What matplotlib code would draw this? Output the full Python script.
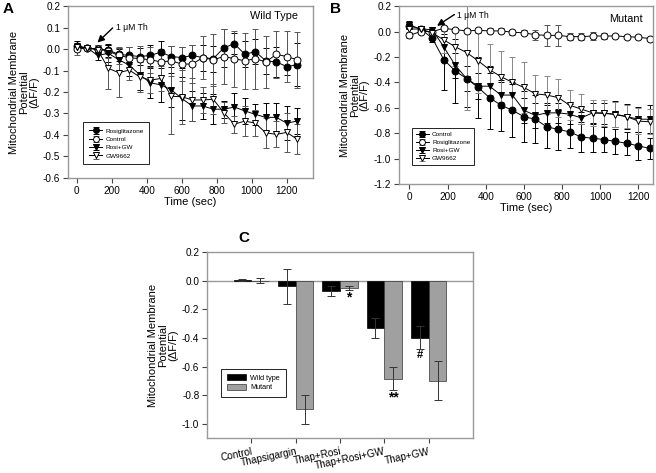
import numpy as np
import matplotlib.pyplot as plt

# time points (sec)
t = np.arange(0, 1261, 60)

# ---- panel A, wild type
a_rosi = [0.015, 0.005, 0.0, -0.005, -0.025, -0.03, -0.035, -0.03, -0.015, -0.035, -0.04,
          -0.03, -0.04, -0.045, 0.005, 0.025, -0.025, -0.012, -0.055, -0.06, -0.082, -0.073]
a_rosi_err = [0.02, 0.01, 0.02, 0.03, 0.03, 0.04, 0.04, 0.05, 0.05, 0.05, 0.05,
              0.05, 0.06, 0.06, 0.09, 0.05, 0.06, 0.06, 0.06, 0.07, 0.04, 0.1]
a_ctrl = [0.0, 0.005, 0.0, -0.01, -0.03, -0.04, -0.045, -0.05, -0.06, -0.055, -0.07,
          -0.07, -0.04, -0.05, -0.035, -0.045, -0.055, -0.045, -0.06, -0.025, -0.035, -0.05]
a_ctrl_err = [0.03, 0.01, 0.02, 0.03, 0.04, 0.05, 0.06, 0.06, 0.06, 0.07, 0.08,
              0.09, 0.1, 0.12, 0.13, 0.13, 0.13, 0.14, 0.12, 0.11, 0.12, 0.13]
a_rgw = [0.01, 0.005, -0.03, -0.02, -0.05, -0.075, -0.12, -0.157, -0.167, -0.19, -0.23,
         -0.265, -0.265, -0.28, -0.28, -0.27, -0.288, -0.304, -0.318, -0.318, -0.345, -0.335]
a_rgw_err = [0.02, 0.01, 0.02, 0.04, 0.05, 0.05, 0.07, 0.07, 0.08, 0.08, 0.1,
             0.07, 0.06, 0.07, 0.04, 0.065, 0.06, 0.05, 0.065, 0.065, 0.08, 0.06]
a_gw = [0.01, 0.005, -0.005, -0.09, -0.11, -0.098, -0.13, -0.145, -0.137, -0.22, -0.222,
        -0.237, -0.237, -0.234, -0.296, -0.35, -0.335, -0.345, -0.39, -0.397, -0.388, -0.42]
a_gw_err = [0.02, 0.01, 0.02, 0.095, 0.115, 0.045, 0.07, 0.06, 0.06, 0.175, 0.125,
            0.1, 0.06, 0.07, 0.05, 0.04, 0.07, 0.06, 0.07, 0.06, 0.09, 0.07]

# ---- panel B, mutant
b_ctrl = [0.047, 0.02, -0.052, -0.22, -0.31, -0.37, -0.44, -0.52, -0.58, -0.62, -0.67,
          -0.69, -0.75, -0.77, -0.79, -0.83, -0.84, -0.85, -0.865, -0.88, -0.90, -0.92]
b_ctrl_err = [0.03, 0.02, 0.03, 0.24, 0.25, 0.22, 0.24, 0.25, 0.2, 0.21, 0.2,
              0.19, 0.17, 0.16, 0.13, 0.12, 0.11, 0.1, 0.1, 0.09, 0.11, 0.08]
b_rosi = [-0.03, 0.0, 0.0, 0.025, 0.015, 0.005, 0.01, 0.005, 0.005, -0.005, -0.01,
          -0.025, -0.03, -0.03, -0.04, -0.04, -0.035, -0.035, -0.035, -0.04, -0.045, -0.055]
b_rosi_err = [0.02, 0.01, 0.01, 0.02, 0.015, 0.015, 0.02, 0.02, 0.02, 0.02, 0.02,
              0.04, 0.08, 0.08, 0.03, 0.03, 0.03, 0.02, 0.015, 0.015, 0.01, 0.01]
b_rgw = [0.05, 0.02, 0.015, -0.12, -0.265, -0.37, -0.43, -0.43, -0.5, -0.5, -0.62,
         -0.66, -0.64, -0.64, -0.65, -0.68, -0.64, -0.645, -0.65, -0.67, -0.69, -0.69]
b_rgw_err = [0.03, 0.02, 0.02, 0.1, 0.1, 0.1, 0.1, 0.1, 0.1, 0.1, 0.1,
             0.1, 0.08, 0.08, 0.08, 0.05, 0.08, 0.08, 0.1, 0.1, 0.1, 0.11]
b_gw = [0.02, 0.02, -0.01, -0.065, -0.12, -0.165, -0.23, -0.30, -0.355, -0.40, -0.44,
        -0.49, -0.50, -0.52, -0.58, -0.61, -0.64, -0.64, -0.655, -0.67, -0.705, -0.71]
b_gw_err = [0.02, 0.02, 0.02, 0.1, 0.15, 0.45, 0.25, 0.2, 0.2, 0.2, 0.2,
            0.15, 0.15, 0.15, 0.12, 0.12, 0.1, 0.1, 0.1, 0.09, 0.1, 0.1]

# ---- panel C
groups = ['Control', 'Thapsigargin', 'Thap+Rosi', 'Thap+Rosi+GW', 'Thap+GW']
wt = [0.005, -0.04, -0.072, -0.333, -0.40]
wt_err = [0.005, 0.122, 0.035, 0.07, 0.08]
mut = [0.0, -0.90, -0.05, -0.686, -0.70]
mut_err = [0.018, 0.10, 0.012, 0.08, 0.135]

plt.rcParams['font.family'] = ['Liberation Sans', 'DejaVu Sans']
fig = plt.figure(figsize=(6.56, 4.73), dpi=100)

ylab = 'Mitochondrial Membrane\nPotential\n(\u0394F/F)'
spine_col = '#999999'


def fmt_ticks(ax, lo, hi, step):
    vals = np.round(np.arange(lo, hi + step / 2, step), 2)
    ax.set_yticks(vals)
    ax.set_yticklabels(['%.1f' % (v + 0.0) for v in vals])


def style_ax(ax):
    for s in ax.spines.values():
        s.set_color(spine_col)
        s.set_linewidth(1.0)
    ax.tick_params(direction='out', length=3.5, width=0.8, labelsize=7.2,
                   color='#444444', top=False, right=False, pad=2)


def series(ax, y, e, marker, face, label, ecol='black'):
    ax.errorbar(t, y, yerr=e, fmt='-', marker=marker, color='black', mfc=face,
                mec='black', ms=5, lw=0.7, mew=0.7, elinewidth=0.7, ecolor=ecol,
                capsize=2, capthick=0.7, label=label)


def leg(ax, loc, pad, spacing):
    lg = ax.legend(loc='lower left', bbox_to_anchor=loc, fontsize=4.6, fancybox=False,
                   edgecolor='black', framealpha=1, handlelength=2.0, handletextpad=0.5,
                   borderpad=pad, labelspacing=spacing, markerscale=0.85)
    lg.get_frame().set_linewidth(0.6)


# panel A
axA = fig.add_axes([0.1037, 0.6237, 0.3735, 0.3636])
series(axA, a_rosi, a_rosi_err, 'o', 'black', 'Rosiglitazone')
series(axA, a_ctrl, a_ctrl_err, 'o', 'white', 'Control', '#555555')
series(axA, a_rgw, a_rgw_err, 'v', 'black', 'Rosi+GW')
series(axA, a_gw, a_gw_err, 'v', 'white', 'GW9662', '#555555')
axA.set_xlim(-50, 1350)
axA.set_ylim(-0.6, 0.2)
axA.set_xticks(np.arange(0, 1201, 200))
fmt_ticks(axA, -0.6, 0.2, 0.1)
axA.set_xlabel('Time (sec)', fontsize=8, labelpad=1)
axA.set_ylabel(ylab, fontsize=8, labelpad=3, linespacing=1.0)
style_ax(axA)
leg(axA, (0.05, 0.06), 0.9, 0.45)
axA.text(0.94, 0.94, 'Wild Type', transform=axA.transAxes, ha='right', va='center', fontsize=7.8)
axA.annotate('', xy=(118, 0.03), xytext=(205, 0.098),
             arrowprops=dict(arrowstyle='-|>', color='black', lw=1.0,
                             shrinkA=0, shrinkB=0, mutation_scale=10))
axA.text(226, 0.102, '1 \u03bcM Th', fontsize=6.2, ha='left', va='center')
fig.text(0.004, 0.995, 'A', fontsize=11, fontweight='bold', va='top')

# panel B
axB = fig.add_axes([0.608, 0.611, 0.387, 0.376])
series(axB, b_ctrl, b_ctrl_err, 'o', 'black', 'Control')
series(axB, b_rosi, b_rosi_err, 'o', 'white', 'Rosiglitazone', '#555555')
series(axB, b_rgw, b_rgw_err, 'v', 'black', 'Rosi+GW')
series(axB, b_gw, b_gw_err, 'v', 'white', 'GW9662', '#888888')
axB.set_xlim(-55, 1275)
axB.set_ylim(-1.2, 0.2)
axB.set_xticks(np.arange(0, 1201, 200))
fmt_ticks(axB, -1.2, 0.2, 0.2)
axB.set_xlabel('Time (sec)', fontsize=8, labelpad=1)
axB.set_ylabel(ylab, fontsize=8, labelpad=3, linespacing=1.0)
style_ax(axB)
leg(axB, (0.04, 0.09), 0.6, 0.38)
axB.text(0.96, 0.927, 'Mutant', transform=axB.transAxes, ha='right', va='center', fontsize=7.8)
axB.annotate('', xy=(145, 0.045), xytext=(236, 0.134),
             arrowprops=dict(arrowstyle='-|>', color='black', lw=1.0,
                             shrinkA=0, shrinkB=0, mutation_scale=10))
axB.text(250, 0.13, '1 \u03bcM Th', fontsize=6.2, ha='left', va='center')
fig.text(0.503, 0.995, 'B', fontsize=11, fontweight='bold', va='top')

# panel C
axC = fig.add_axes([0.3155, 0.074, 0.4055, 0.393])
x = np.arange(1, len(groups) + 1)
w = 0.4
axC.axhline(0, color='#999999', lw=1.0, zorder=1)
axC.bar(x - w, wt, w, align='edge', color='black', edgecolor='black', lw=0.5,
        label='Wild type', zorder=2)
axC.bar(x, mut, w, align='edge', color='#a0a0a0', edgecolor='#333333', lw=0.5,
        label='Mutant', zorder=2)
axC.errorbar(x - w / 2, wt, yerr=wt_err, fmt='none', ecolor='#333333', elinewidth=0.7,
             capsize=3, capthick=0.7, zorder=3)
axC.errorbar(x + w / 2, mut, yerr=mut_err, fmt='none', ecolor='#333333', elinewidth=0.7,
             capsize=3, capthick=0.7, zorder=3)
axC.text(3 + w / 2, -0.115, '*', ha='center', va='center', fontsize=10, fontweight='bold')
axC.text(4 + w / 2, -0.815, '**', ha='center', va='center', fontsize=10, fontweight='bold')
axC.text(5 - w / 2, -0.52, '#', ha='center', va='center', fontsize=8, fontweight='bold')
axC.set_xlim(0, 6)
axC.set_ylim(-1.1, 0.2)
fmt_ticks(axC, -1.0, 0.2, 0.2)
axC.set_xticks(x)
axC.set_xticklabels(groups, rotation=12, ha='right', rotation_mode='anchor', fontsize=6.8)
axC.set_ylabel(ylab, fontsize=8, labelpad=3, linespacing=1.0)
style_ax(axC)
axC.tick_params(axis='x', pad=2.5)
lg = axC.legend(loc='lower left', bbox_to_anchor=(0.04, 0.2), fontsize=5.2, fancybox=False,
                edgecolor='black', framealpha=1, handlelength=2.6, handleheight=0.8,
                borderpad=0.8, labelspacing=0.35, handletextpad=0.6)
lg.get_frame().set_linewidth(0.6)
fig.text(0.364, 0.497, 'C', fontsize=11, fontweight='bold', va='center')

fig.savefig('out.png', dpi=100)
